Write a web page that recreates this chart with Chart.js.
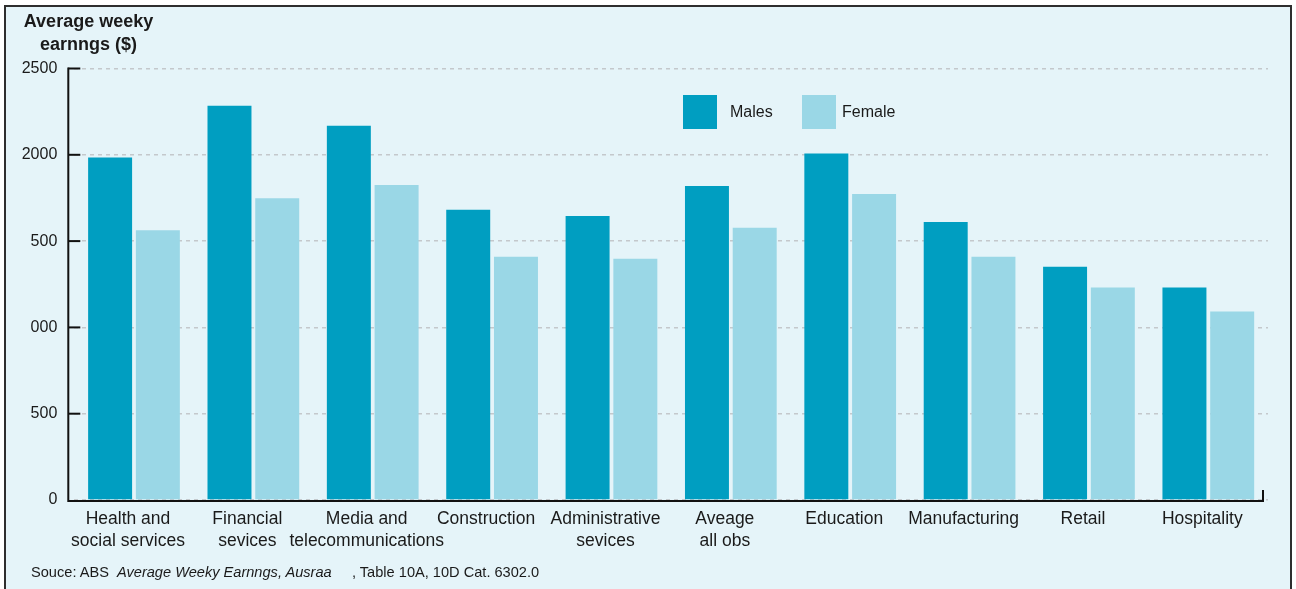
<!DOCTYPE html>
<html>
<head>
<meta charset="utf-8">
<script src="https://cdn.jsdelivr.net/npm/chart.js@4/dist/chart.umd.min.js"></script>
<style>
  body { margin: 0; background: #fff; font-family: 'Liberation Sans', Arial, Helvetica, sans-serif; color: #1a1a1a; }
  #wrap { position: relative; width: 1296px; height: 589px; overflow: hidden; }
  #frame { position: absolute; left: 4px; top: 5px; width: 1284px; height: 600px;
           border: 2px solid #2e2e2e; border-bottom: none; background: #e5f4f9; }
  #myChart { position: absolute; left: 0; top: 0; }
  .title { position: absolute; left: 0; top: 10px; width: 177px; text-align: center;
           font-weight: bold; font-size: 18px; line-height: 23px; }
  .legend-box { position: absolute; top: 95px; width: 34px; height: 34px; }
  .legend-text { position: absolute; top: 102px; font-size: 16px; line-height: 20px; }
  .source { position: absolute; left: 31px; top: 564px; font-size: 14.6px; line-height: 16px; white-space: pre; }
</style>
</head>
<body>
<div id="wrap">
  <div id="frame"></div>
  <canvas id="myChart" width="1296" height="589"></canvas>
  <div class="title">Average weeky<br>earnngs ($)</div>
  <div class="legend-box" style="left:683px;background:#009ec1"></div>
  <div class="legend-text" style="left:730px">Males</div>
  <div class="legend-box" style="left:802px;background:#9ad7e6"></div>
  <div class="legend-text" style="left:842px">Female</div>
  <div class="source">Souce: ABS  <i>Average Weeky Earnngs, Ausraa</i>     , Table 10A, 10D Cat. 6302.0</div>
</div>
<script>
const categories = [
  ['Health and', 'social services'],
  ['Financial', 'sevices'],
  ['Media and', 'telecommunications'],
  'Construction',
  ['Administrative', 'sevices'],
  ['Aveage', 'all obs'],
  'Education',
  'Manufacturing',
  'Retail',
  'Hospitality'
];
const males = [1984, 2284, 2169, 1681, 1646, 1819, 2007, 1611, 1352, 1231];
const females = [1563, 1748, 1825, 1409, 1398, 1577, 1773, 1409, 1231, 1092];
const yTickLabels = ['0', '500', '000', '500', '2000', '2500'];

const FONT = "'Liberation Sans', Arial, Helvetica, sans-serif";

// black axis lines + small ticks, drawn over the bars
const axesPlugin = {
  id: 'axes',
  afterDatasetsDraw(chart) {
    const ctx = chart.ctx;
    const area = chart.chartArea;
    const y = chart.scales.y;
    const axisX = area.left - 6;
    const base = y.getPixelForValue(0);
    ctx.save();
    ctx.strokeStyle = '#111';
    ctx.lineWidth = 2;
    ctx.beginPath();
    ctx.moveTo(axisX, y.getPixelForValue(2500) - 1);
    ctx.lineTo(axisX, base + 1);
    ctx.lineTo(area.right - 5, base + 1);
    ctx.lineTo(area.right - 5, base - 10);
    ctx.stroke();
    for (let v = 500; v <= 2500; v += 500) {
      const py = y.getPixelForValue(v);
      ctx.beginPath();
      ctx.moveTo(axisX, py);
      ctx.lineTo(axisX + 12, py);
      ctx.stroke();
    }
    ctx.restore();
  }
};

const ctx = document.getElementById('myChart');
const myChart = new Chart(ctx, {
  type: 'bar',
  data: {
    labels: categories,
    datasets: [
      { label: 'Males', data: males, backgroundColor: '#009ec1' },
      { label: 'Female', data: females, backgroundColor: '#9ad7e6' }
    ]
  },
  options: {
    responsive: false,
    animation: false,
    devicePixelRatio: 1,
    categoryPercentage: 0.8,
    barPercentage: 0.921,
    layout: { padding: { top: 68.5, right: 28, bottom: 29, left: 0 } },
    plugins: { legend: { display: false }, tooltip: { enabled: false } },
    scales: {
      x: {
        grid: { display: false, drawTicks: false },
        border: { display: false },
        afterFit: (scale) => { scale.height = 60; },
        ticks: {
          color: '#1a1a1a',
          padding: 8,
          labelOffset: -6,
          maxRotation: 0,
          autoSkip: false,
          font: { family: FONT, size: 17.5, lineHeight: 1.26 }
        }
      },
      y: {
        min: 0,
        max: 2500,
        afterFit: (scale) => { scale.width = 74.3; },
        grid: { color: '#c4c8cc', lineWidth: 1.5, drawTicks: false },
        border: { display: false, dash: [4, 4] },
        ticks: {
          stepSize: 500,
          padding: 17,
          color: '#1a1a1a',
          font: { family: FONT, size: 16 },
          callback: (value, index) => yTickLabels[index]
        }
      }
    }
  },
  plugins: [axesPlugin]
});
</script>
</body>
</html>
